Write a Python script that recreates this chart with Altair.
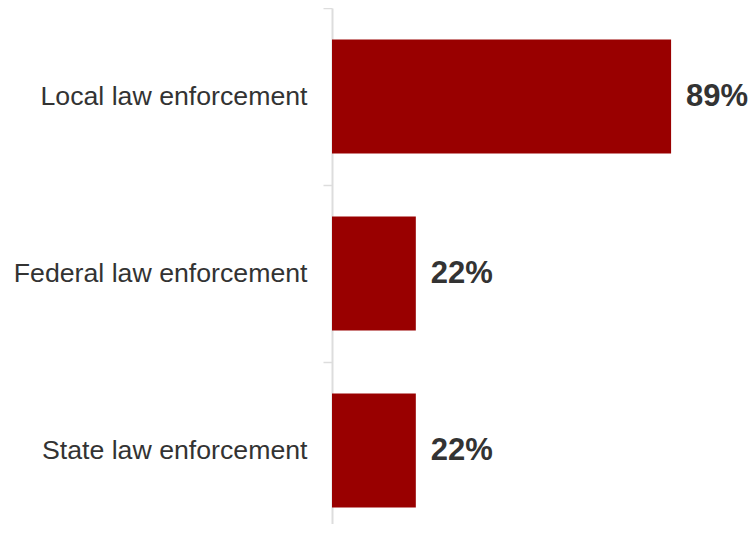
import altair as alt
import pandas as pd

categories = ["Local law enforcement", "Federal law enforcement", "State law enforcement"]
values = [89, 22, 22]
labels = ["89%", "22%", "22%"]

df = pd.DataFrame({"category": categories, "value": values, "label": labels})

FONT = "Liberation Sans, Arial, Helvetica, sans-serif"
STEP = 177

base = alt.Chart(df).encode(
    y=alt.Y(
        "category:N",
        sort=categories,
        title=None,
        scale=alt.Scale(range=[0, 531], paddingInner=0.355, paddingOuter=0.1775),
        axis=alt.Axis(
            domainColor="#dddddd",
            domainWidth=2,
            tickColor="#dddddd",
            tickWidth=1.5,
            tickSize=9,
            tickBand="center",
            tickOffset=-STEP / 2,
            labelOffset=STEP / 2,
            labelFont=FONT,
            labelFontSize=26.7,
            labelColor="#333333",
            labelPadding=16,
            labelLimit=400,
        ),
    ),
    x=alt.X("value:Q", scale=alt.Scale(domain=[0, 100]), axis=None),
)

bars = base.mark_bar(color="#990000")
text = base.mark_text(
    align="left",
    baseline="middle",
    dx=15,
    fontSize=31,
    fontWeight="bold",
    color="#333333",
    font=FONT,
).encode(text="label:N")

chart = (
    (bars + text)
    .properties(
        width=381,
        height=516,
        autosize=alt.AutoSizeParams(type="none"),
        padding={"left": 324, "top": 0, "right": 35, "bottom": 0},
    )
    .configure_view(stroke=None)
)

chart.save("out.html", embed_options={"renderer": "svg", "actions": False})
